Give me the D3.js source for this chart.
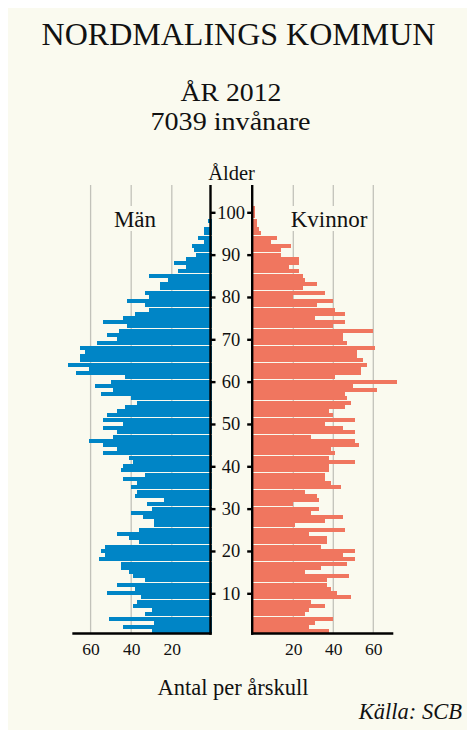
<!DOCTYPE html>
<html>
<head>
<meta charset="utf-8">
<script src="https://cdn.jsdelivr.net/npm/d3@7/dist/d3.min.js"></script>
<style>
  html, body { margin: 0; padding: 0; background: #ffffff; }
  svg { display: block; }
  text { font-family: "Liberation Serif", "DejaVu Serif", serif; fill: #111; }
</style>
</head>
<body>
<svg id="chart" width="467" height="730"></svg>
<script>
// ---- Data (ages 0..100) ----
const ages = d3.range(0, 101);
const male = [
  30,44,29,51,33,30,39,37,35,52,
  38,47,33,39,41,45,45,56,53,55,
  53,36,41,47,36,29,29,34,40,30,
  32,24,38,37,40,37,44,33,45,44,
  39,41,54,47,54,61,49,47,54,44,
  54,52,47,43,37,40,55,49,58,50,
  43,67,61,71,65,65,63,65,57,47,
  52,46,42,54,44,38,31,33,42,31,
  33,26,26,22,31,17,13,19,13,8,
  9,10,4,7,4,4,1,2,0,0,0
];
const female = [
  38,28,31,40,26,28,36,29,49,42,
  39,37,37,48,26,34,47,51,45,51,
  34,37,37,28,46,21,36,45,29,33,
  20,33,32,26,44,39,36,36,38,38,
  51,38,41,39,53,51,29,51,45,36,
  51,40,38,46,49,47,46,62,50,72,
  41,54,54,57,55,52,52,61,47,45,
  45,60,40,46,31,46,41,32,40,20,
  36,25,32,26,25,23,18,23,23,14,
  14,19,9,12,4,3,2,2,1,1,1
];
const ageTicks = [10,20,30,40,50,60,70,80,90,100];
const countTicks = [20,40,60];
const title = "NORDMALINGS KOMMUN";
const subtitle1 = "ÅR 2012";
const subtitle2 = "7039 invånare";
const maleLabel = "Män";
const femaleLabel = "Kvinnor";
const ageLabel = "Ålder";
const xLabel = "Antal per årskull";
const source = "Källa: SCB";

// ---- Setup ----
const svg = d3.select("#chart");
const bg = "#fafaef";
const maleColor = "#0085c6";
const femaleColor = "#f0765f";
const gridColor = "#c2c2ba";

svg.append("rect").attr("x", 8).attr("y", 8).attr("width", 459).attr("height", 722).attr("fill", bg);

// scales
const xM = d3.scaleLinear().domain([0, 69]).range([212.4, 212.4 - 69 * 2.03]);
const xF = d3.scaleLinear().domain([0, 70]).range([253.3, 253.3 + 70 * 2.0]);
const yAge = d3.scaleLinear().domain([0, 101]).range([633.5, 633.5 - 101 * 4.233]);
const yTick = d3.scaleLinear().domain([10, 100]).range([593.3, 212.3]);

const plotTop = 185, plotBottom = 633.5;

// gridlines
const grid = svg.append("g");
grid.selectAll("line.gm").data(countTicks).join("line")
  .attr("x1", d => xM(d)).attr("x2", d => xM(d))
  .attr("y1", plotTop).attr("y2", plotBottom)
  .attr("stroke", gridColor).attr("stroke-width", 1.3);
grid.selectAll("line.gf").data(countTicks).join("line")
  .attr("x1", d => xF(d)).attr("x2", d => xF(d))
  .attr("y1", plotTop).attr("y2", plotBottom)
  .attr("stroke", gridColor).attr("stroke-width", 1.3);

// side labels with background
function sideLabel(txt, cx) {
  const g = svg.append("g");
  const r = g.append("rect").attr("fill", bg);
  const t = g.append("text").attr("x", cx).attr("y", 226.7)
    .attr("text-anchor", "middle").attr("font-size", 23).text(txt);
  const bb = t.node().getBBox();
  r.attr("x", bb.x - 3).attr("y", 206).attr("width", bb.width + 6).attr("height", 25);
}
sideLabel(maleLabel, 135);
sideLabel(femaleLabel, 329);

// bars
const barH = 4;
svg.append("g").selectAll("rect").data(ages).join("rect")
  .attr("x", a => xM(male[a]))
  .attr("y", a => Math.round(yAge(a + 1)))
  .attr("width", a => xM(0) - xM(male[a]))
  .attr("height", barH)
  .attr("fill", maleColor)
  .attr("shape-rendering", "crispEdges");
svg.append("g").selectAll("rect").data(ages).join("rect")
  .attr("x", xF(0))
  .attr("y", a => Math.round(yAge(a + 1)))
  .attr("width", a => xF(female[a]) - xF(0))
  .attr("height", barH)
  .attr("fill", femaleColor)
  .attr("shape-rendering", "crispEdges");

// vertical axis lines
const axisM = 210.5, axisF = 252.2;
svg.append("line").attr("x1", axisM).attr("x2", axisM).attr("y1", plotTop).attr("y2", 634.7)
  .attr("stroke", "#000").attr("stroke-width", 2.4);
svg.append("line").attr("x1", axisF).attr("x2", axisF).attr("y1", plotTop).attr("y2", 634.7)
  .attr("stroke", "#000").attr("stroke-width", 2.4);

// age axis (ticks + labels)
const ageAxisR = d3.axisRight(yTick).tickValues(ageTicks).tickSize(5).tickFormat(d3.format("d"));
const gA = svg.append("g").attr("transform", `translate(${axisM},0)`).call(ageAxisR);
gA.select(".domain").remove();
gA.selectAll(".tick line").attr("stroke", "#000").attr("stroke-width", 2.4);
gA.selectAll(".tick text")
  .attr("x", 231 - axisM).attr("dy", "0.32em")
  .attr("text-anchor", "middle")
  .attr("font-family", "Liberation Serif, DejaVu Serif, serif")
  .attr("font-size", 18.5).attr("fill", "#111");

const ageAxisL = d3.axisLeft(yTick).tickValues(ageTicks).tickSize(5).tickFormat("");
const gA2 = svg.append("g").attr("transform", `translate(${axisF},0)`).call(ageAxisL);
gA2.select(".domain").remove();
gA2.selectAll(".tick line").attr("stroke", "#000").attr("stroke-width", 2.4);

// count axes
function countAxis(scale, x0, x1) {
  svg.append("line").attr("x1", x0).attr("x2", x1).attr("y1", 633.5).attr("y2", 633.5)
    .attr("stroke", "#000").attr("stroke-width", 2.4);
  const g = svg.append("g").attr("transform", "translate(0,633.5)")
    .call(d3.axisBottom(scale).tickValues(countTicks).tickSize(0).tickPadding(9.5));
  g.select(".domain").remove();
  g.selectAll(".tick text")
    .attr("font-family", "Liberation Serif, DejaVu Serif, serif")
    .attr("font-size", 17.5).attr("fill", "#111");
}
countAxis(xM, xM(69), axisM + 1.2);
countAxis(xF, axisF - 1.2, xF(70));

// titles
svg.append("text").attr("x", 238.5).attr("y", 45).attr("text-anchor", "middle")
  .attr("font-size", 32).text(title);
svg.append("text").attr("x", 231).attr("y", 100.6).attr("text-anchor", "middle")
  .attr("font-size", 26).attr("textLength", 101).attr("lengthAdjust", "spacingAndGlyphs")
  .text(subtitle1);
svg.append("text").attr("x", 230.5).attr("y", 129.6).attr("text-anchor", "middle")
  .attr("font-size", 26).attr("textLength", 160).attr("lengthAdjust", "spacingAndGlyphs")
  .text(subtitle2);
svg.append("text").attr("x", 231.5).attr("y", 180).attr("text-anchor", "middle")
  .attr("font-size", 20.5).text(ageLabel);
svg.append("text").attr("x", 233).attr("y", 695).attr("text-anchor", "middle")
  .attr("font-size", 22.5).text(xLabel);
svg.append("text").attr("x", 462).attr("y", 719.3).attr("text-anchor", "end")
  .attr("font-size", 22.5).attr("font-style", "italic").text(source);
</script>
</body>
</html>
